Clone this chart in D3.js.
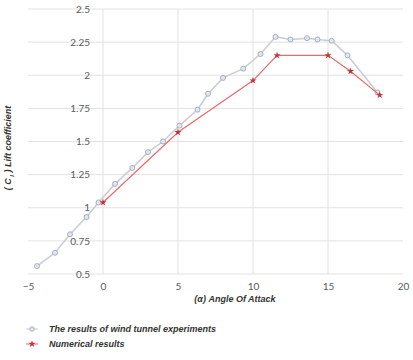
<!DOCTYPE html>
<html>
<head>
<meta charset="utf-8">
<script src="https://cdn.jsdelivr.net/npm/d3@7"></script>
<style>
  body { margin: 0; background: #fff; }
  .tick text { font-family: Lato, "Open Sans", sans-serif; font-size: 10px; fill: #5a5a5a; }
  .ttl { font-family: "Liberation Sans", Arial, sans-serif; font-size: 9px; font-style: italic; font-weight: bold; fill: #333; }
</style>
</head>
<body>
<div id="chart"></div>
<script>
// wind tunnel experiments
var expAlpha = [-4.4, -3.2, -2.2, -1.1, -0.3, 0.8, 1.95, 3.0, 4.0, 5.1, 6.3, 7.0, 8.0, 9.35, 10.5, 11.5, 12.5, 13.6, 14.3, 15.25, 16.3, 18.3];
var expCl    = [0.56, 0.66, 0.80, 0.93, 1.04, 1.18, 1.30, 1.42, 1.50, 1.62, 1.74, 1.86, 1.98, 2.05, 2.16, 2.29, 2.27, 2.28, 2.27, 2.26, 2.15, 1.87];
// numerical results
var numAlpha = [0, 5, 10, 11.6, 15, 16.5, 18.45];
var numCl    = [1.04, 1.57, 1.96, 2.15, 2.15, 2.03, 1.85];

var xTicks = [-5, 0, 5, 10, 15, 20];
var yTicks = [0.5, 0.75, 1, 1.25, 1.5, 1.75, 2, 2.25, 2.5];

var W = 413, H = 360;
var svg = d3.select("#chart").append("svg").attr("width", W).attr("height", H);

var x = d3.scaleLinear().domain([-5, 20]).range([28, 403]);
var y = d3.scaleLinear().domain([0.5, 2.5]).range([274, 9]);

// grid
svg.append("g").selectAll("line").data(yTicks).enter().append("line")
  .attr("x1", x(-5)).attr("x2", x(20))
  .attr("y1", d => y(d)).attr("y2", d => y(d))
  .attr("stroke", "#e2e2e2").attr("stroke-width", 1);
svg.append("g").selectAll("line").data([0, 5, 10, 15]).enter().append("line")
  .attr("x1", d => x(d)).attr("x2", d => x(d))
  .attr("y1", y(0.5)).attr("y2", y(2.5))
  .attr("stroke", "#e2e2e2").attr("stroke-width", 1);

// x axis labels
var xa = svg.append("g")
  .attr("transform", "translate(0," + (y(0.5) + 6) + ")")
  .call(d3.axisBottom(x).tickValues(xTicks).tickSize(0).tickFormat(d3.format("d")));
xa.select(".domain").remove();

// y axis labels sit next to the zero line
var ya = svg.append("g")
  .attr("transform", "translate(" + (x(0) - 10) + ",0)")
  .call(d3.axisLeft(y).tickValues(yTicks).tickSize(0).tickFormat(d => d3.format("")(d)));
ya.select(".domain").remove();

// titles
svg.append("text").attr("class", "ttl")
  .attr("x", 235).attr("y", 302).attr("text-anchor", "middle")
  .text("(\u03b1) Angle Of Attack");

var yt = svg.append("text").attr("class", "ttl")
  .attr("transform", "translate(11,148) rotate(-90)")
  .attr("text-anchor", "middle");
yt.append("tspan").text("( C");
yt.append("tspan").attr("font-size", "6px").attr("dy", 3).text(" l");
yt.append("tspan").attr("dy", -3).text(" )  Lift coefficient");

// series
var line = d3.line().x(d => x(d[0])).y(d => y(d[1]));
var expData = expAlpha.map((a, i) => [a, expCl[i]]);
var numData = numAlpha.map((a, i) => [a, numCl[i]]);

svg.append("path").datum(expData).attr("d", line)
  .attr("fill", "none").attr("stroke", "#c9ccd4").attr("stroke-width", 1.5);
svg.append("g").selectAll("circle").data(expData).enter().append("circle")
  .attr("cx", d => x(d[0])).attr("cy", d => y(d[1])).attr("r", 2.5)
  .attr("fill", "#e2e6f0").attr("stroke", "#98a0b4").attr("stroke-width", 0.8);

svg.append("path").datum(numData).attr("d", line)
  .attr("fill", "none").attr("stroke", "#e86a6a").attr("stroke-width", 1.2);
var star = d3.symbol().type(d3.symbolStar).size(16);
svg.append("g").selectAll("path").data(numData).enter().append("path")
  .attr("d", star)
  .attr("transform", d => "translate(" + x(d[0]) + "," + y(d[1]) + ")")
  .attr("fill", "#c0343a");

// legend
var lg = svg.append("g");
lg.append("line").attr("x1", 26).attr("x2", 38).attr("y1", 329).attr("y2", 329)
  .attr("stroke", "#c9ccd4").attr("stroke-width", 1);
lg.append("circle").attr("cx", 32).attr("cy", 329).attr("r", 2.2)
  .attr("fill", "#e2e6f0").attr("stroke", "#98a0b4").attr("stroke-width", 0.8);
lg.append("text").attr("class", "ttl").attr("x", 49).attr("y", 332)
  .text("The results of wind tunnel experiments");
lg.append("line").attr("x1", 26).attr("x2", 38).attr("y1", 344).attr("y2", 344)
  .attr("stroke", "#e86a6a").attr("stroke-width", 1);
lg.append("path").attr("d", star).attr("transform", "translate(32,344)").attr("fill", "#c0343a");
lg.append("text").attr("class", "ttl").attr("x", 49).attr("y", 347)
  .text("Numerical results");
</script>
</body>
</html>
